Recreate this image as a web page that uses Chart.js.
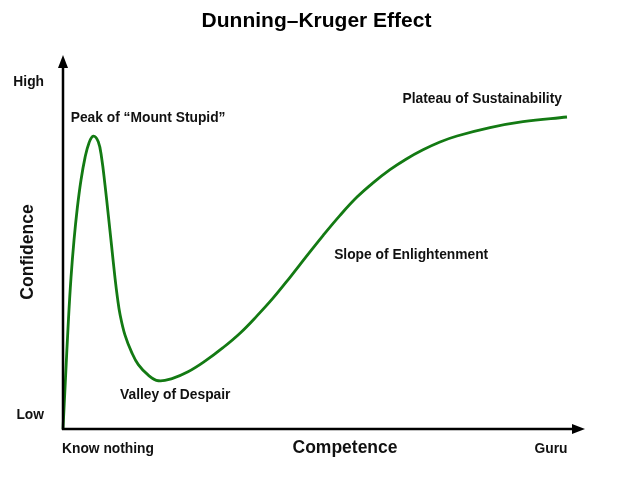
<!DOCTYPE html>
<html>
<head>
<meta charset="utf-8">
<script src="https://cdn.jsdelivr.net/npm/chart.js@4/dist/chart.umd.min.js"></script>
<style>
  html, body { margin: 0; padding: 0; background: #fff; }
  #wrap { width: 635px; height: 483px; }
</style>
</head>
<body>
<div id="wrap"><canvas id="chart"></canvas></div>
<script>
const chartTitle = 'Dunning\u2013Kruger Effect';

// curve: competence (0-100) vs confidence (0-100)
const competence = [0, 0.48, 1.02, 1.53, 2.11, 2.74, 3.45, 4.21, 4.98, 5.8, 6.76, 7.41, 8.05, 8.68, 9.29, 9.96, 10.44, 10.92, 11.88, 13.16, 14.43, 16.34, 18.26, 20.88, 23.95, 27.2, 30.65, 33.91, 37.16, 40.23, 43.49, 46.74, 49.81, 53.07, 56.32, 59.39, 62.64, 65.71, 68.97, 72.22, 75.48, 81.8, 88.12, 96.55];
const confidence = [0, 13.6, 28.6, 40.4, 50.5, 59.1, 66.6, 72.5, 76.5, 78.3, 76.8, 72.4, 65.2, 57.2, 49.2, 40.4, 35, 30.7, 25.1, 20.5, 17.2, 14.4, 12.9, 13.48, 15.29, 18.13, 21.74, 25.61, 30.24, 34.97, 40.56, 46.34, 51.71, 57.11, 62, 65.8, 69.33, 72.14, 74.65, 76.74, 78.34, 80.59, 82.17, 83.42];

// stage labels, placed in data units
const stageNames = ['Peak of \u201cMount Stupid\u201d', 'Valley of Despair', 'Slope of Enlightenment', 'Plateau of Sustainability'];
const stageX = [16.3, 21.5, 66.7, 80.3];
const stageY = [83.2, 9.1, 46.5, 88.2];

// axis end labels
const yEndLabels = ['Low', 'High'];
const yEndValues = [3.7, 92.8];
const xEndLabels = ['Know nothing', 'Guru'];
const xEndValues = [0, 93.5];

const points = competence.map((x, i) => ({ x, y: confidence[i] }));

const FONT = '"Liberation Sans", Arial, sans-serif';

const axesAndText = {
  id: 'axesAndText',
  afterDatasetsDraw(chart) {
    const { ctx, chartArea: a, scales: { x, y } } = chart;
    ctx.save();
    ctx.strokeStyle = '#000';
    ctx.fillStyle = '#000';
    ctx.lineWidth = 2.5;

    // y axis with arrow
    ctx.beginPath();
    ctx.moveTo(a.left, a.bottom + 1);
    ctx.lineTo(a.left, a.top + 10);
    ctx.stroke();
    ctx.beginPath();
    ctx.moveTo(a.left, a.top);
    ctx.lineTo(a.left - 5, a.top + 13);
    ctx.lineTo(a.left + 5, a.top + 13);
    ctx.closePath();
    ctx.fill();

    // x axis with arrow
    ctx.beginPath();
    ctx.moveTo(a.left - 1, a.bottom);
    ctx.lineTo(a.right - 10, a.bottom);
    ctx.stroke();
    ctx.beginPath();
    ctx.moveTo(a.right, a.bottom);
    ctx.lineTo(a.right - 13, a.bottom - 5);
    ctx.lineTo(a.right - 13, a.bottom + 5);
    ctx.closePath();
    ctx.fill();

    ctx.textBaseline = 'middle';
    ctx.textAlign = 'center';

    // title, centred on the page rather than the plot
    ctx.fillStyle = '#000';
    ctx.font = 'bold 21px ' + FONT;
    ctx.fillText(chartTitle, chart.width / 2 - 1, 21);

    ctx.fillStyle = '#111';
    ctx.font = 'bold 13.8px ' + FONT;
    stageNames.forEach((t, i) => {
      ctx.fillText(t, x.getPixelForValue(stageX[i]), y.getPixelForValue(stageY[i]));
    });

    ctx.textAlign = 'right';
    yEndLabels.forEach((t, i) => {
      ctx.fillText(t, a.left - 19, y.getPixelForValue(yEndValues[i]));
    });

    const below = a.bottom + 20;
    ctx.textAlign = 'left';
    ctx.fillText(xEndLabels[0], x.getPixelForValue(xEndValues[0]) - 1, below);
    ctx.textAlign = 'center';
    ctx.fillText(xEndLabels[1], x.getPixelForValue(xEndValues[1]), below);

    ctx.font = 'bold 17.5px ' + FONT;
    ctx.fillText('Competence', (a.left + a.right) / 2 + 21, below - 1);

    ctx.save();
    ctx.translate(a.left - 35, (a.top + a.bottom) / 2 + 10);
    ctx.rotate(-Math.PI / 2);
    ctx.fillText('Confidence', 0, 0);
    ctx.restore();

    ctx.restore();
  }
};

new Chart(document.getElementById('chart'), {
  type: 'line',
  data: {
    datasets: [{
      label: chartTitle,
      data: points,
      borderColor: '#137a13',
      borderWidth: 2.8,
      pointRadius: 0,
      fill: false,
      tension: 0.4,
      clip: false
    }]
  },
  options: {
    responsive: true,
    maintainAspectRatio: false,
    animation: false,
    layout: { padding: { left: 63, right: 50, top: 55, bottom: 54 } },
    plugins: {
      legend: { display: false },
      tooltip: { enabled: false },
      title: { display: false }
    },
    scales: {
      x: { type: 'linear', min: 0, max: 100, display: false },
      y: { type: 'linear', min: 0, max: 100, display: false }
    }
  },
  plugins: [axesAndText]
});
</script>
</body>
</html>
